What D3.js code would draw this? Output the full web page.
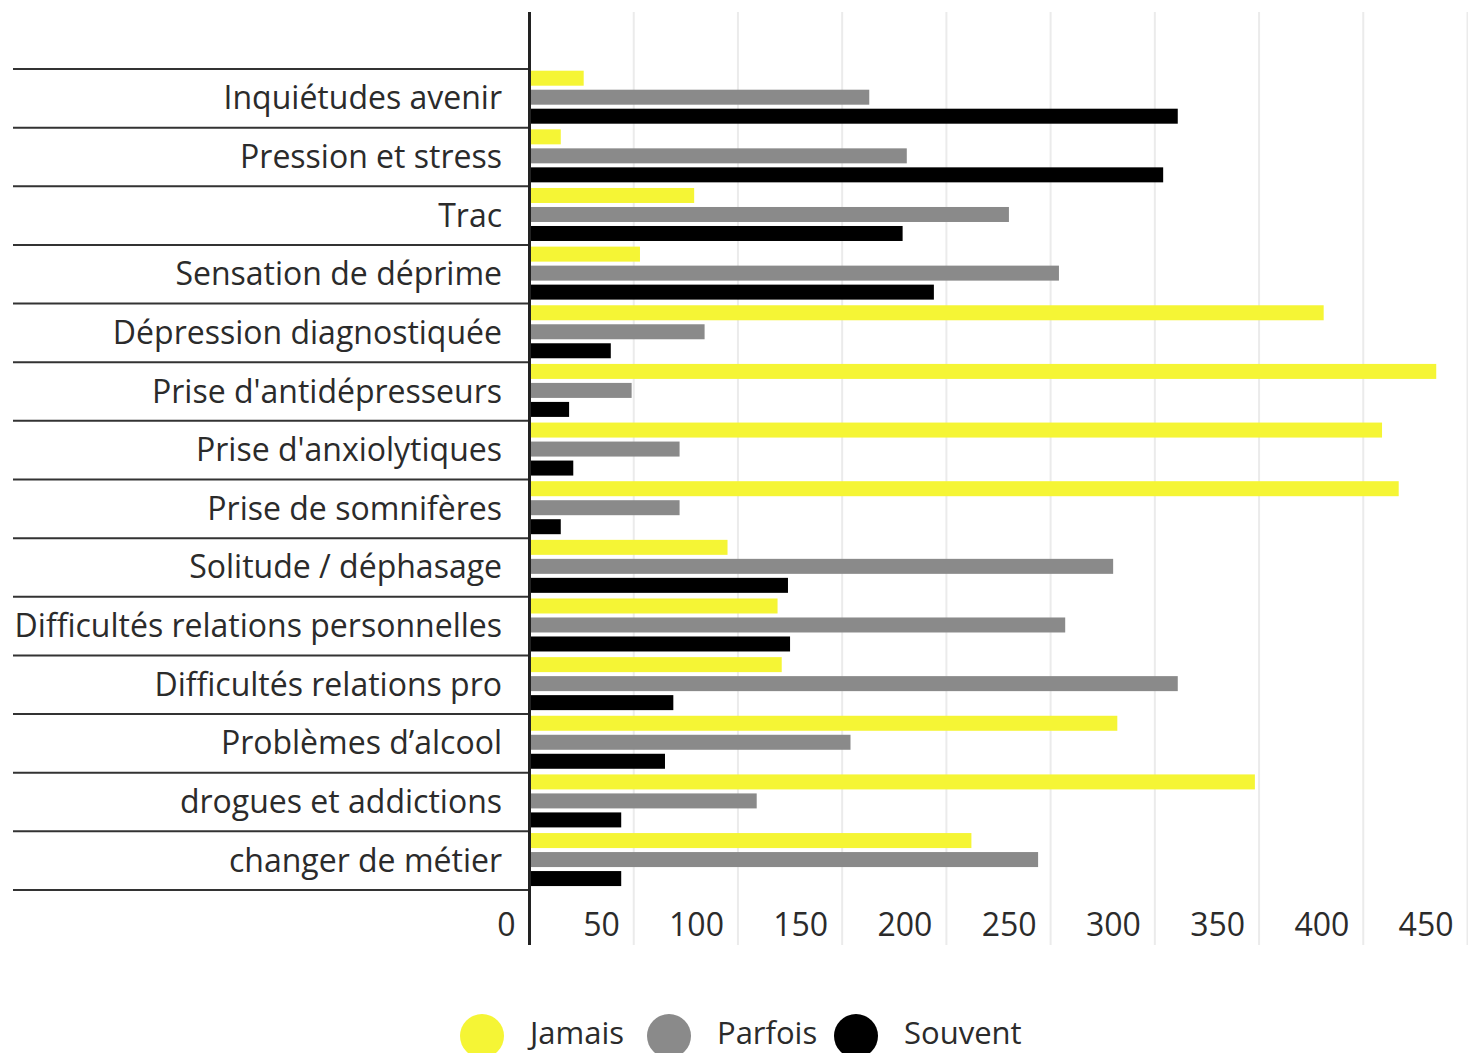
<!DOCTYPE html>
<html>
<head>
<meta charset="utf-8">
<script src="https://cdn.jsdelivr.net/npm/d3@7"></script>
<style>
  html, body { margin: 0; padding: 0; background: #fff; }
  svg { display: block; }
</style>
</head>
<body>
<svg id="chart" width="1468" height="1053"></svg>
<script>
// categories, top to bottom
const categories = [
  'Inquiétudes avenir',
  'Pression et stress',
  'Trac',
  'Sensation de déprime',
  'Dépression diagnostiquée',
  "Prise d'antidépresseurs",
  "Prise d'anxiolytiques",
  'Prise de somnifères',
  'Solitude / déphasage',
  'Difficultés relations personnelles',
  'Difficultés relations pro',
  'Problèmes d’alcool',
  'drogues et addictions',
  'changer de métier'
];

const seriesNames = ['Jamais', 'Parfois', 'Souvent'];
const seriesColors = ['#f5f535', '#8a8a8a', '#000000'];

const jamais  = [26, 15, 79, 53, 381, 435, 409, 417, 95, 119, 121, 282, 348, 212];
const parfois = [163, 181, 230, 254, 84, 49, 72, 72, 280, 257, 311, 154, 109, 244];
const souvent = [311, 304, 179, 194, 39, 19, 21, 15, 124, 125, 69, 65, 44, 44];

const xTicks = [0, 50, 100, 150, 200, 250, 300, 350, 400, 450];

const svg = d3.select('#chart');
const font = '"Open Sans", sans-serif';

const x = d3.scaleLinear().domain([0, 450]).range([529.5, 1467.5]);
const y = d3.scaleBand().domain(categories).range([69, 890]);
const ySeries = d3.scaleBand().domain(seriesNames).range([1.7, 54.7]).paddingInner(4 / 19);

const plotTop = 12;
const plotBottom = 945;

// light vertical grid
svg.append('g')
  .selectAll('line')
  .data(xTicks.slice(1))
  .join('line')
  .attr('x1', (d) => x(d))
  .attr('x2', (d) => x(d))
  .attr('y1', plotTop)
  .attr('y2', plotBottom)
  .attr('stroke', '#ebebeb')
  .attr('stroke-width', 2);

// bars
const rows = categories.map((c, i) => ({
  cat: c,
  values: [jamais[i], parfois[i], souvent[i]]
}));

svg.append('g')
  .selectAll('g')
  .data(rows)
  .join('g')
  .attr('transform', (d) => `translate(0,${y(d.cat)})`)
  .selectAll('rect')
  .data((d) => d.values.map((v, k) => ({ v, k })))
  .join('rect')
  .attr('x', x(0))
  .attr('y', (d) => ySeries(seriesNames[d.k]))
  .attr('width', (d) => x(d.v) - x(0))
  .attr('height', ySeries.bandwidth())
  .attr('fill', (d) => seriesColors[d.k]);

// row separators on the label side
const bounds = categories.map((c) => y(c)).concat([y.range()[1]]);
svg.append('g')
  .selectAll('line')
  .data(bounds)
  .join('line')
  .attr('x1', 13)
  .attr('x2', 528)
  .attr('y1', (d) => d)
  .attr('y2', (d) => d)
  .attr('stroke', '#333')
  .attr('stroke-width', 2);

// category labels
svg.append('g')
  .selectAll('text')
  .data(categories)
  .join('text')
  .attr('x', 502)
  .attr('y', (d) => y(d) + y.bandwidth() / 2 + 11)
  .attr('text-anchor', 'end')
  .attr('font-family', font)
  .attr('font-size', 32)
  .attr('fill', '#2b2b2b')
  .text((d) => d);

// y axis line
svg.append('line')
  .attr('x1', x(0))
  .attr('x2', x(0))
  .attr('y1', plotTop)
  .attr('y2', plotBottom)
  .attr('stroke', '#222')
  .attr('stroke-width', 3);

// x tick labels (sit just left of each grid line)
svg.append('g')
  .selectAll('text')
  .data(xTicks)
  .join('text')
  .attr('x', (d) => x(d) - 14)
  .attr('y', 936)
  .attr('text-anchor', 'end')
  .attr('font-family', font)
  .attr('font-size', 32)
  .attr('fill', '#2b2b2b')
  .text((d) => d);

// legend
const legend = svg.append('g')
  .selectAll('g')
  .data(seriesNames)
  .join('g')
  .attr('transform', (d, i) => `translate(${482 + i * 187},1036)`);

legend.append('circle')
  .attr('r', 22)
  .attr('fill', (d, i) => seriesColors[i]);

legend.append('text')
  .attr('x', 48)
  .attr('y', 8)
  .attr('font-family', font)
  .attr('font-size', 31)
  .attr('fill', '#2b2b2b')
  .text((d) => d);
</script>
</body>
</html>
